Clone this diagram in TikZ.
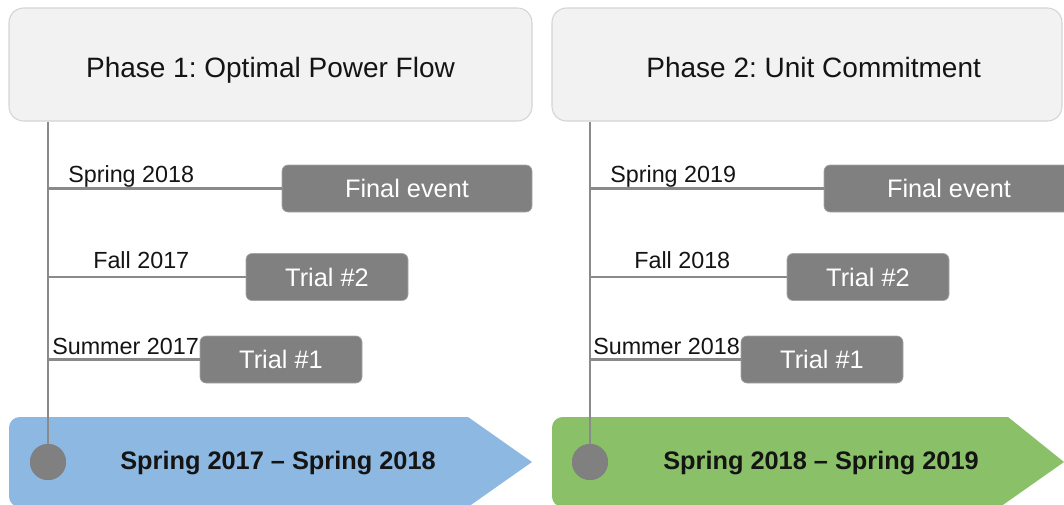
\documentclass[tikz,border=0pt]{standalone}
\usepackage{fontspec}
\setmainfont{Liberation Sans}
\frenchspacing
\definecolor{hdrfill}{HTML}{F2F2F2}
\definecolor{hdrline}{HTML}{D4D4D4}
\definecolor{evfill}{HTML}{808080}
\definecolor{evline}{HTML}{A6A6A6}
\definecolor{tline}{HTML}{8A8A8A}
\definecolor{bluebar}{HTML}{8DB8E2}
\definecolor{greenbar}{HTML}{8AC168}
\definecolor{txt}{HTML}{141414}
\begin{document}
\begin{tikzpicture}[x=0.75pt,y=-0.75pt,
  header/.style={draw=hdrline,line width=0.8pt,fill=hdrfill,rounded corners=11pt,
    minimum height=84.75pt,inner sep=0pt,text height=18.75pt,text depth=0pt,
    text=txt,font=\fontsize{21}{25}\selectfont},
  evbox/.style={draw=evline,line width=0.5pt,fill=evfill,rounded corners=4.5pt,
    minimum height=35.25pt,inner sep=0pt,text=white,font=\fontsize{19}{23}\selectfont},
  datelabel/.style={anchor=base west,inner sep=0pt,text=txt,font=\fontsize{17.5}{21}\selectfont},
  tl/.style={draw=tline,line width=1.6pt},
  dot/.style={circle,fill=evfill,minimum size=27pt,inner sep=0pt},
  bartext/.style={inner sep=0pt,text=txt,font=\bfseries\fontsize{19}{23}\selectfont}]
\useasboundingbox (0,0) rectangle (1064,504);
\clip (0,0) rectangle (1064,504);

% ---------- bottom bars ----------
\fill[bluebar] (532,462) -- (468,507) [rounded corners=8pt] -- (9,507) -- (9,417) -- (300,417) [sharp corners] -- (468,417) -- cycle;
\fill[greenbar] (1064,462) -- (1000,507) [rounded corners=8pt] -- (552,507) -- (552,417) -- (800,417) [sharp corners] -- (1008,417) -- cycle;
\node[bartext] (barA) at (278,463) {Spring 2017 – Spring 2018};
\node[bartext] (barB) at (821,463) {Spring 2018 – Spring 2019};

% ---------- Phase 1 ----------
\node[header,minimum width=392.25pt] (hdrA) at (270.5,64.5) {Phase 1: Optimal Power Flow};
\node[dot] (dotA) at (48,462) {};
\draw[tl] (hdrA.south -| dotA) -- (dotA.center);

\node[evbox,minimum width=187.5pt] (a3) at (407,188.5) {Final event};
\node[evbox,minimum width=121.5pt] (a2) at (327,277) {Trial \#2};
\node[evbox,minimum width=121.5pt] (a1) at (281,359.5) {Trial \#1};
\draw[tl] (dotA |- a3.west) -- (a3.west);
\draw[tl] (dotA |- a2.west) -- (a2.west);
\draw[tl] (dotA |- a1.west) -- (a1.west);
\node[datelabel] (la3) at (68,182) {Spring 2018};
\node[datelabel] (la2) at (93,268) {Fall 2017};
\node[datelabel] (la1) at (52,354) {Summer 2017};

% ---------- Phase 2 ----------
\node[header,minimum width=382.5pt] (hdrB) at (807,64.5) {\hspace{10pt}Phase 2: Unit Commitment};
\node[dot] (dotB) at (590,462) {};
\draw[tl] (hdrB.south -| dotB) -- (dotB.center);

\node[evbox,minimum width=187.5pt] (b3) at (949,188.5) {Final event};
\node[evbox,minimum width=121.5pt] (b2) at (868,277) {Trial \#2};
\node[evbox,minimum width=121.5pt] (b1) at (822,359.5) {Trial \#1};
\draw[tl] (dotB |- b3.west) -- (b3.west);
\draw[tl] (dotB |- b2.west) -- (b2.west);
\draw[tl] (dotB |- b1.west) -- (b1.west);
\node[datelabel] (lb3) at (610,182) {Spring 2019};
\node[datelabel] (lb2) at (634,268) {Fall 2018};
\node[datelabel] (lb1) at (593,354) {Summer 2018};

% dots on top of the lines
\node[dot] at (dotA) {};
\node[dot] at (dotB) {};
\end{tikzpicture}
\end{document}
